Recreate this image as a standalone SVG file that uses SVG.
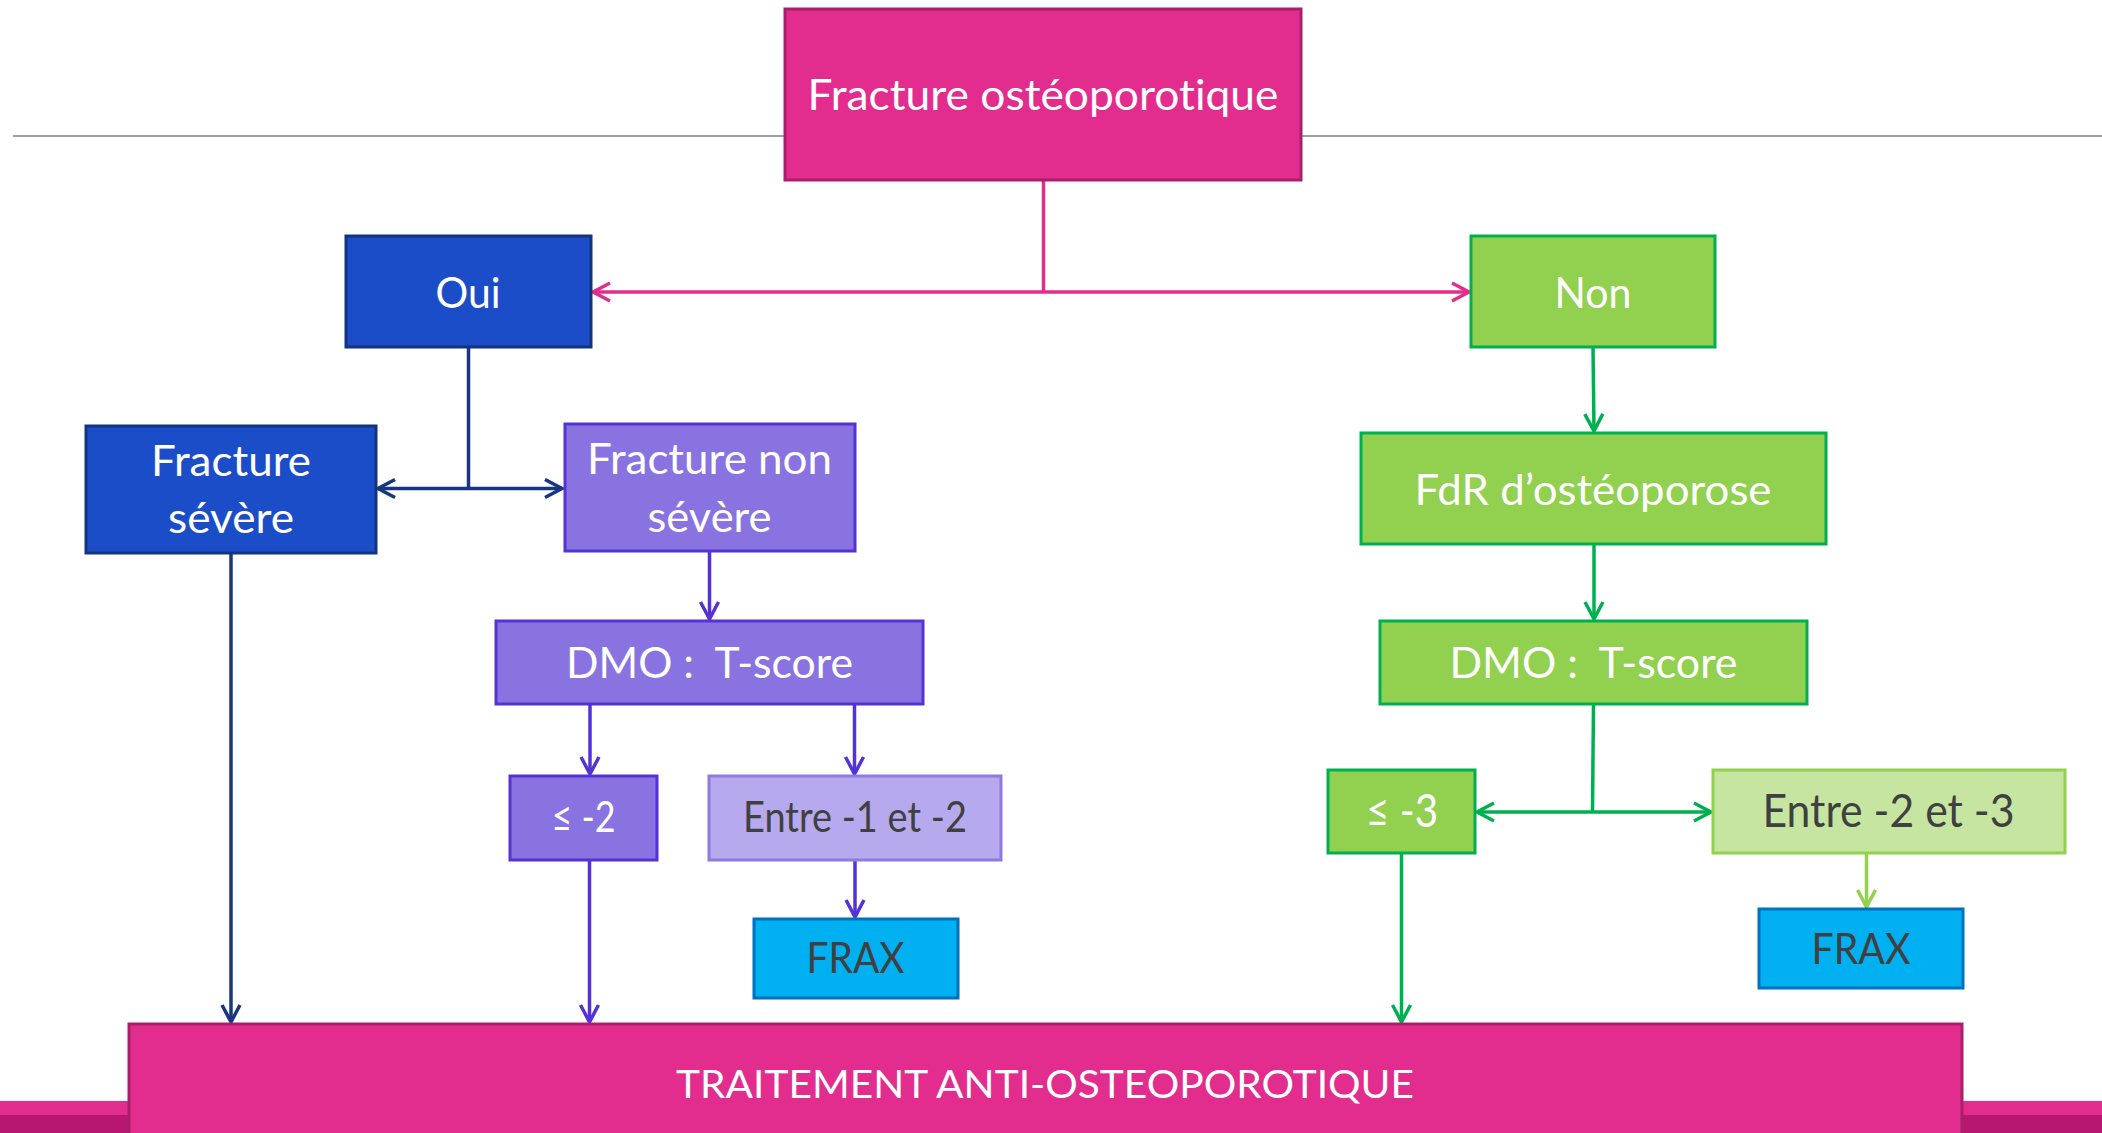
<svg xmlns="http://www.w3.org/2000/svg" width="2102" height="1133" viewBox="0 0 2102 1133">
<style>
text{font-family:Lato,"Open Sans","Liberation Sans",sans-serif;text-anchor:middle;fill:#fff;font-size:43px;font-variant-ligatures:none;font-feature-settings:"liga" 0}
text.dk{fill:#404040}
.pink{fill:#E22D8E;stroke:#A8206A;stroke-width:3}
.blue{fill:#1C4DC8;stroke:#12347F;stroke-width:3}
.purp{fill:#8973E0;stroke:#5432D6;stroke-width:3}
.lpurp{fill:#B7A9EE;stroke:#8E7AE0;stroke-width:3}
.green{fill:#92D050;stroke:#00B050;stroke-width:3}
.lgreen{fill:#C5E5A0;stroke:#92D050;stroke-width:3}
.frax{fill:#00B0F0;stroke:#0070C0;stroke-width:3}
.c{fill:none;stroke-width:3.5}
</style>
<defs>
<marker id="aP" markerUnits="userSpaceOnUse" markerWidth="24" markerHeight="24" refX="20" refY="11" orient="auto-start-reverse"><path d="M3,2 L20,11 L3,20" fill="none" stroke="#E32D8D" stroke-width="3.5"/></marker>
<marker id="aN" markerUnits="userSpaceOnUse" markerWidth="24" markerHeight="24" refX="20" refY="11" orient="auto-start-reverse"><path d="M3,2 L20,11 L3,20" fill="none" stroke="#17367F" stroke-width="3.5"/></marker>
<marker id="aV" markerUnits="userSpaceOnUse" markerWidth="24" markerHeight="24" refX="20" refY="11" orient="auto-start-reverse"><path d="M3,2 L20,11 L3,20" fill="none" stroke="#5432D6" stroke-width="3.5"/></marker>
<marker id="aG" markerUnits="userSpaceOnUse" markerWidth="24" markerHeight="24" refX="20" refY="11" orient="auto-start-reverse"><path d="M3,2 L20,11 L3,20" fill="none" stroke="#00B050" stroke-width="3.5"/></marker>
<marker id="aL" markerUnits="userSpaceOnUse" markerWidth="24" markerHeight="24" refX="20" refY="11" orient="auto-start-reverse"><path d="M3,2 L20,11 L3,20" fill="none" stroke="#92D050" stroke-width="3.5"/></marker>
</defs>
<rect width="2102" height="1133" fill="#fff"/>
<line x1="13" y1="136" x2="2102" y2="136" stroke="#A0A0A0" stroke-width="2"/>
<rect x="0" y="1101" width="2102" height="14" fill="#E22D8E"/>
<rect x="0" y="1115" width="2102" height="18" fill="#B5186E"/>

<g id="connectors">
<path class="c" stroke="#E32D8D" d="M1043.5,180 V292"/>
<path class="c" stroke="#E32D8D" d="M593,292 H1469" marker-start="url(#aP)" marker-end="url(#aP)"/>
<path class="c" stroke="#17367F" d="M468.5,347 V488"/>
<path class="c" stroke="#17367F" d="M378,488.5 H562" marker-start="url(#aN)" marker-end="url(#aN)"/>
<path class="c" stroke="#17367F" d="M231,553 V1022" marker-end="url(#aN)"/>
<path class="c" stroke="#5432D6" d="M709.5,551 V619" marker-end="url(#aV)"/>
<path class="c" stroke="#5432D6" d="M590,704 V774" marker-end="url(#aV)"/>
<path class="c" stroke="#5432D6" d="M854.5,704 V774" marker-end="url(#aV)"/>
<path class="c" stroke="#5432D6" d="M589.5,860 V1022" marker-end="url(#aV)"/>
<path class="c" stroke="#5432D6" d="M855,860 V917" marker-end="url(#aV)"/>
<path class="c" stroke="#00B050" d="M1593,347 L1594,431" marker-end="url(#aG)"/>
<path class="c" stroke="#00B050" d="M1594,544 V619" marker-end="url(#aG)"/>
<path class="c" stroke="#00B050" d="M1593.5,704 L1592.5,812"/>
<path class="c" stroke="#00B050" d="M1477,812 H1711" marker-start="url(#aG)" marker-end="url(#aG)"/>
<path class="c" stroke="#00B050" d="M1401.5,853 V1022" marker-end="url(#aG)"/>
<path class="c" stroke="#92D050" d="M1866.5,850 V907" marker-end="url(#aL)"/>
</g>

<g id="n-top"><rect class="pink" x="785" y="9" width="516" height="171"/><text x="1043" y="110" textLength="471" lengthAdjust="spacingAndGlyphs">Fracture ostéoporotique</text></g>
<g id="n-oui"><rect class="blue" x="346" y="236" width="245" height="111"/><text x="468" y="308" textLength="65" lengthAdjust="spacingAndGlyphs">Oui</text></g>
<g id="n-non"><rect class="green" x="1471" y="236" width="244" height="111"/><text x="1593" y="308" textLength="77" lengthAdjust="spacingAndGlyphs">Non</text></g>
<g id="n-severe"><rect class="blue" x="86" y="426" width="290" height="127"/><text x="231" y="476" textLength="160" lengthAdjust="spacingAndGlyphs">Fracture</text><text x="231" y="533" textLength="126" lengthAdjust="spacingAndGlyphs">sévère</text></g>
<g id="n-nonsevere"><rect class="purp" x="565" y="424" width="290" height="127"/><text x="709.5" y="474" textLength="245" lengthAdjust="spacingAndGlyphs">Fracture non</text><text x="709.5" y="532" textLength="124" lengthAdjust="spacingAndGlyphs">sévère</text></g>
<g id="n-dmo1"><rect class="purp" x="496" y="621" width="427" height="83"/><text x="709.5" y="678" textLength="287" lengthAdjust="spacingAndGlyphs" xml:space="preserve">DMO :  T-score</text></g>
<g id="n-le2"><rect class="purp" x="510" y="776" width="147" height="84"/><text x="583.5" y="832" textLength="64" lengthAdjust="spacingAndGlyphs">≤ -2</text></g>
<g id="n-entre12"><rect class="lpurp" x="709" y="776" width="292" height="84"/><text class="dk" x="855" y="832" textLength="224" lengthAdjust="spacingAndGlyphs">Entre -1 et -2</text></g>
<g id="n-frax1"><rect class="frax" x="754" y="919" width="204" height="79"/><text class="dk" x="855.5" y="973" textLength="98" lengthAdjust="spacingAndGlyphs">FRAX</text></g>
<g id="n-fdr"><rect class="green" x="1361" y="433" width="465" height="111"/><text x="1593" y="505" textLength="357" lengthAdjust="spacingAndGlyphs">FdR d’ostéoporose</text></g>
<g id="n-dmo2"><rect class="green" x="1380" y="621" width="427" height="83"/><text x="1593.5" y="678" textLength="288" lengthAdjust="spacingAndGlyphs" xml:space="preserve">DMO :  T-score</text></g>
<g id="n-le3"><rect class="green" x="1328" y="770" width="147" height="83"/><text x="1402" y="827" textLength="72" lengthAdjust="spacingAndGlyphs" style="font-size:46px">≤ -3</text></g>
<g id="n-entre23"><rect class="lgreen" x="1713" y="770" width="352" height="83"/><text class="dk" x="1888.5" y="827" textLength="252" lengthAdjust="spacingAndGlyphs" style="font-size:46px">Entre -2 et -3</text></g>
<g id="n-frax2"><rect class="frax" x="1759" y="909" width="204" height="79"/><text class="dk" x="1861" y="964" textLength="99" lengthAdjust="spacingAndGlyphs">FRAX</text></g>
<g id="n-traitement"><rect class="pink" x="129" y="1024" width="1833" height="120"/><text x="1045" y="1098" textLength="738" lengthAdjust="spacingAndGlyphs" style="font-size:39px">TRAITEMENT ANTI-OSTEOPOROTIQUE</text></g>
</svg>
